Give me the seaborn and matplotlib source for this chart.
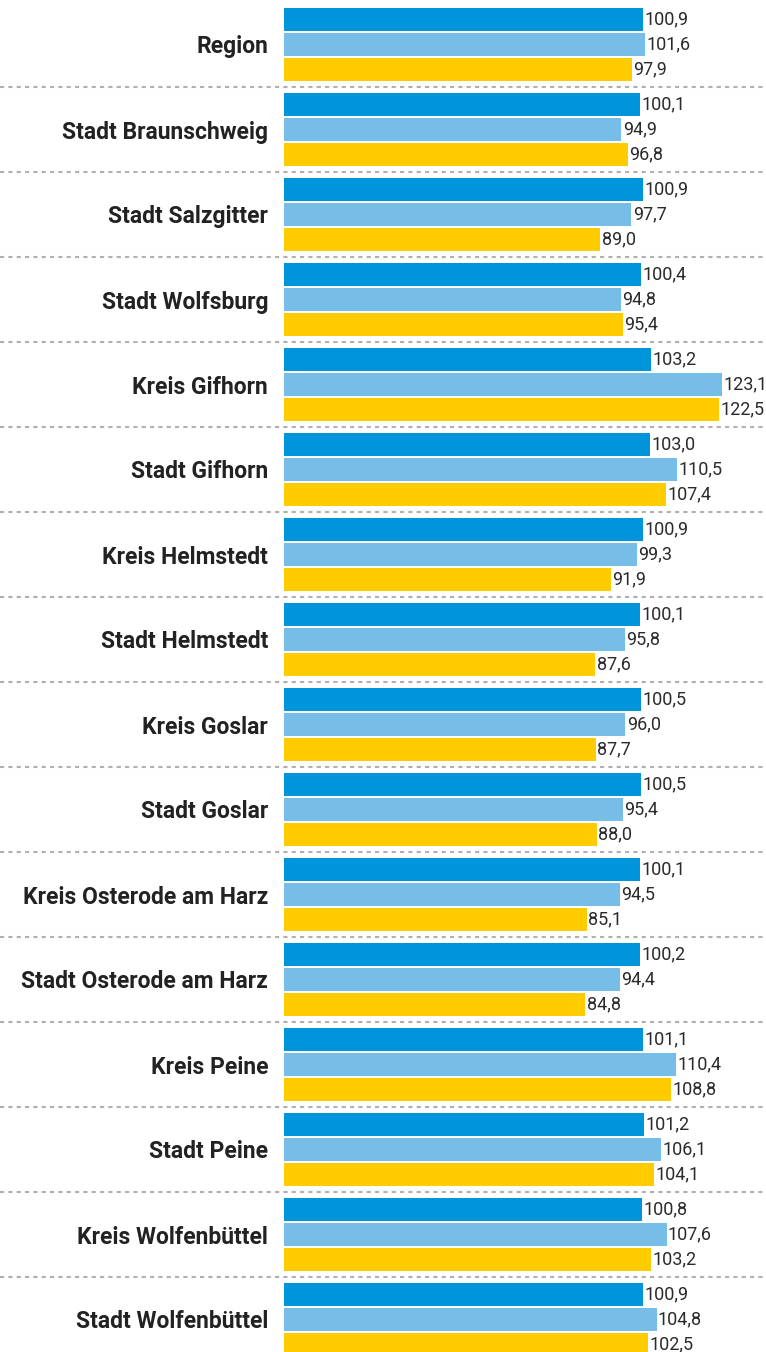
import matplotlib
matplotlib.use("Agg")
import matplotlib.pyplot as plt
import matplotlib.transforms as mtransforms
import seaborn as sns
import pandas as pd

categories = ["Region", "Stadt Braunschweig", "Stadt Salzgitter", "Stadt Wolfsburg",
              "Kreis Gifhorn", "Stadt Gifhorn", "Kreis Helmstedt", "Stadt Helmstedt",
              "Kreis Goslar", "Stadt Goslar", "Kreis Osterode am Harz",
              "Stadt Osterode am Harz", "Kreis Peine", "Stadt Peine",
              "Kreis Wolfenbüttel", "Stadt Wolfenbüttel"]
series_names = ["Reihe 1", "Reihe 2", "Reihe 3"]
values_1 = [100.9, 100.1, 100.9, 100.4, 103.2, 103.0, 100.9, 100.1, 100.5, 100.5,
            100.1, 100.2, 101.1, 101.2, 100.8, 100.9]
values_2 = [101.6, 94.9, 97.7, 94.8, 123.1, 110.5, 99.3, 95.8, 96.0, 95.4,
            94.5, 94.4, 110.4, 106.1, 107.6, 104.8]
values_3 = [97.9, 96.8, 89.0, 95.4, 122.5, 107.4, 91.9, 87.6, 87.7, 88.0,
            85.1, 84.8, 108.8, 104.1, 103.2, 102.5]
colors = ["#0095DA", "#76BDE8", "#FFCC00"]

rows = []
for name, vals in zip(series_names, [values_1, values_2, values_3]):
    for c, v in zip(categories, vals):
        rows.append({"Kategorie": c, "Reihe": name, "Wert": v})
df = pd.DataFrame(rows)

sns.set_style("white")
plt.rcParams["font.family"] = ["Roboto", "DejaVu Sans"]

W, H = 766, 1352
fig = plt.figure(figsize=(W / 100, H / 100), dpi=100)
x0 = 284
ax = fig.add_axes([x0 / W, 0, 1 - x0 / W, 1])

sns.barplot(data=df, y="Kategorie", x="Wert", hue="Reihe", order=categories,
            hue_order=series_names, palette=colors, orient="h", width=0.882,
            gap=0.082, legend=False, ax=ax, saturation=1, errorbar=None,
            linewidth=0)

px_per_unit = 3.555
ax.set_xlim(0, (W - x0) / px_per_unit)
pitch = 85.0
top_c = 44.5
ax.set_ylim((H - top_c) / pitch, -top_c / pitch)

for cont in ax.containers:
    ax.bar_label(cont, labels=[f"{b.get_width():.1f}".replace(".", ",") for b in cont],
                 padding=1, fontsize=13, color="#2a2a2a", fontweight="normal")

ax.set_xlabel("")
ax.set_ylabel("")
ax.set_xticks([])
ax.tick_params(axis="y", length=0, pad=11.5)
for lab in ax.get_yticklabels():
    lab.set_fontweight("bold")
    lab.set_fontsize(16.5)
    lab.set_color("#222222")
for s in ax.spines.values():
    s.set_visible(False)

trans = mtransforms.blended_transform_factory(fig.transFigure, ax.transData)
for i in range(len(categories) - 1):
    yb = i + 0.5
    ax.plot([0, 1], [yb, yb], transform=trans, color="#B0B0B0", lw=1.5,
            linestyle=(0, (2, 2)), clip_on=False)

fig.savefig("out.png", dpi=100)
